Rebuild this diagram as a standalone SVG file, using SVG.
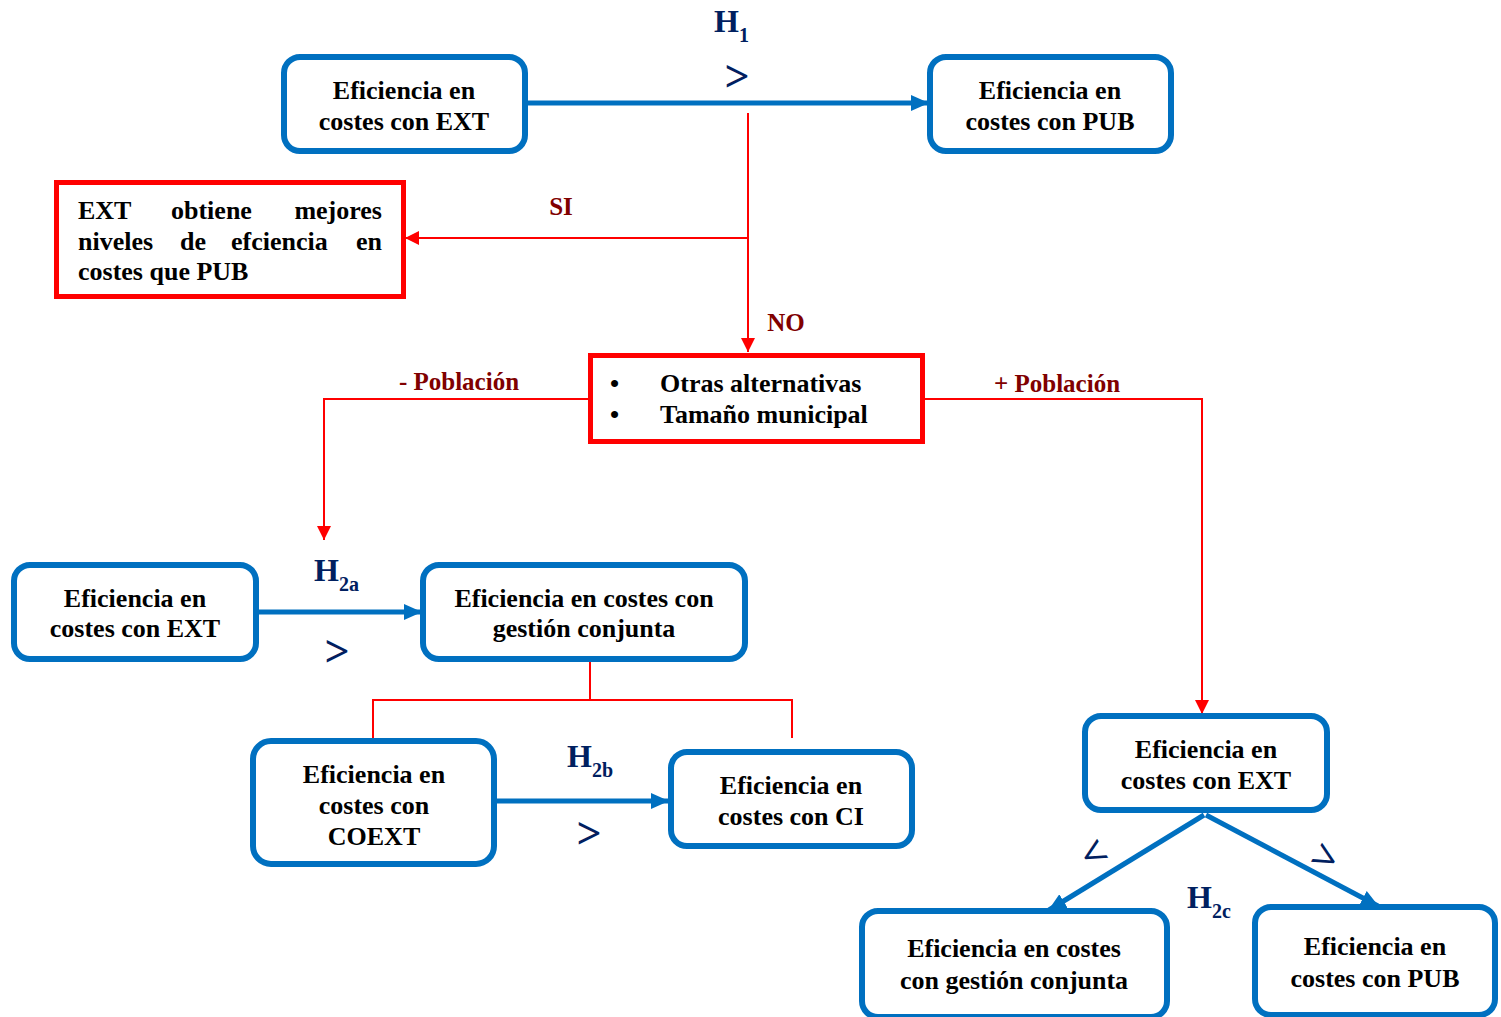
<svg xmlns="http://www.w3.org/2000/svg" width="1501" height="1017" viewBox="0 0 1501 1017">
<defs>
<style>
.bb{fill:#fff;stroke:#0070C0;stroke-width:6}
.rb{fill:#fff;stroke:#FF0000;stroke-width:5}
.t{font-family:"Liberation Serif",serif;font-weight:bold;font-size:26px;fill:#000;text-anchor:middle}
.tl{font-family:"Liberation Serif",serif;font-weight:bold;font-size:26px;fill:#000}
.lab{font-family:"Liberation Serif",serif;font-weight:bold;font-size:25px;fill:#800000}
.h{font-family:"Liberation Serif",serif;font-weight:bold;font-size:32px;fill:#002060}
.hs{font-size:20px}
.gt{font-family:"Liberation Serif",serif;font-weight:bold;font-size:44px;fill:#002060;text-anchor:middle}
.bl{fill:none;stroke:#0070C0;stroke-width:5}
.rl{fill:none;stroke:#FF0000;stroke-width:2}
</style>
<marker id="ab" markerUnits="userSpaceOnUse" markerWidth="18" markerHeight="16" refX="17" refY="8" orient="auto"><path d="M0,0 L18,8 L0,16 Z" fill="#0070C0"/></marker>
<marker id="ar" markerUnits="userSpaceOnUse" markerWidth="14" markerHeight="14" refX="14" refY="7" orient="auto"><path d="M0,0 L14,7 L0,14 Z" fill="#FF0000"/></marker>
</defs>

<g id="connectors">
<line class="bl" x1="528" y1="103" x2="928" y2="103" marker-end="url(#ab)"/>
<polyline class="rl" points="748,113 748,352" marker-end="url(#ar)"/>
<polyline class="rl" points="748,238 405,238" marker-end="url(#ar)"/>
<polyline class="rl" points="588,399 324,399 324,540" marker-end="url(#ar)"/>
<polyline class="rl" points="925,399 1202,399 1202,714" marker-end="url(#ar)"/>
<line class="bl" x1="259" y1="612" x2="421" y2="612" marker-end="url(#ab)"/>
<polyline class="rl" points="590,662 590,700"/>
<polyline class="rl" points="373,738 373,700 792,700 792,738"/>
<line class="bl" x1="497" y1="801" x2="668" y2="801" marker-end="url(#ab)"/>
<line class="bl" x1="1204" y1="815" x2="1049" y2="910" marker-end="url(#ab)"/>
<line class="bl" x1="1206" y1="815" x2="1378" y2="906" marker-end="url(#ab)"/>
</g>

<g id="labels">
<text class="h" x="714" y="32">H<tspan class="hs" dy="10">1</tspan></text>
<text class="gt" x="737" y="91">&gt;</text>
<text class="lab" x="561" y="215" text-anchor="middle">SI</text>
<text class="lab" x="786" y="331" text-anchor="middle">NO</text>
<text class="lab" x="459" y="390" text-anchor="middle">- Población</text>
<text class="lab" x="1057" y="392" text-anchor="middle">+ Población</text>
<text class="h" x="314" y="581">H<tspan class="hs" dy="10">2a</tspan></text>
<text class="gt" x="337" y="666">&gt;</text>
<text class="h" x="567" y="767">H<tspan class="hs" dy="10">2b</tspan></text>
<text class="gt" x="589" y="848">&gt;</text>
<text class="h" x="1187" y="908">H<tspan class="hs" dy="10">2c</tspan></text>
<text class="gt" transform="translate(1101,866) rotate(-30)" x="0" y="0">&lt;</text>
<text class="gt" transform="translate(1318,870) rotate(30)" x="0" y="0">&gt;</text>
</g>

<g id="n1">
<rect class="bb" x="284" y="57" width="241" height="94" rx="16"/>
<text class="t" x="404" y="99">Eficiencia en</text>
<text class="t" x="404" y="130">costes con EXT</text>
</g>
<g id="n2">
<rect class="bb" x="930" y="57" width="241" height="94" rx="16"/>
<text class="t" x="1050" y="99">Eficiencia en</text>
<text class="t" x="1050" y="130">costes con PUB</text>
</g>
<g id="n3">
<rect class="rb" x="56.5" y="182.5" width="347" height="114"/>
<text class="tl" x="78" y="219">EXT</text>
<text class="tl" x="171" y="219">obtiene</text>
<text class="tl" x="382" y="219" text-anchor="end">mejores</text>
<text class="tl" x="78" y="250">niveles</text>
<text class="tl" x="180" y="250">de</text>
<text class="tl" x="231" y="250">efciencia</text>
<text class="tl" x="382" y="250" text-anchor="end">en</text>
<text class="tl" x="78" y="280">costes que PUB</text>
</g>
<g id="n4">
<rect class="rb" x="590.5" y="355.5" width="332" height="86"/>
<text class="tl" x="610" y="392">•</text>
<text class="tl" x="660" y="392">Otras alternativas</text>
<text class="tl" x="610" y="423">•</text>
<text class="tl" x="660" y="423">Tamaño municipal</text>
</g>
<g id="n5">
<rect class="bb" x="14" y="565" width="242" height="94" rx="16"/>
<text class="t" x="135" y="607">Eficiencia en</text>
<text class="t" x="135" y="637">costes con EXT</text>
</g>
<g id="n6">
<rect class="bb" x="423" y="565" width="322" height="94" rx="16"/>
<text class="t" x="584" y="607">Eficiencia en costes con</text>
<text class="t" x="584" y="637">gestión conjunta</text>
</g>
<g id="n7">
<rect class="bb" x="253" y="741" width="241" height="123" rx="18"/>
<text class="t" x="374" y="783">Eficiencia en</text>
<text class="t" x="374" y="814">costes con</text>
<text class="t" x="374" y="845">COEXT</text>
</g>
<g id="n8">
<rect class="bb" x="671" y="752" width="241" height="94" rx="16"/>
<text class="t" x="791" y="794">Eficiencia en</text>
<text class="t" x="791" y="825">costes con CI</text>
</g>
<g id="n9">
<rect class="bb" x="1085" y="716" width="242" height="94" rx="16"/>
<text class="t" x="1206" y="758">Eficiencia en</text>
<text class="t" x="1206" y="789">costes con EXT</text>
</g>
<g id="n10">
<rect class="bb" x="862" y="911" width="305" height="106" rx="16"/>
<text class="t" x="1014" y="957">Eficiencia en costes</text>
<text class="t" x="1014" y="989">con gestión conjunta</text>
</g>
<g id="n11">
<rect class="bb" x="1255" y="907" width="240" height="108" rx="16"/>
<text class="t" x="1375" y="955">Eficiencia en</text>
<text class="t" x="1375" y="987">costes con PUB</text>
</g>
</svg>
